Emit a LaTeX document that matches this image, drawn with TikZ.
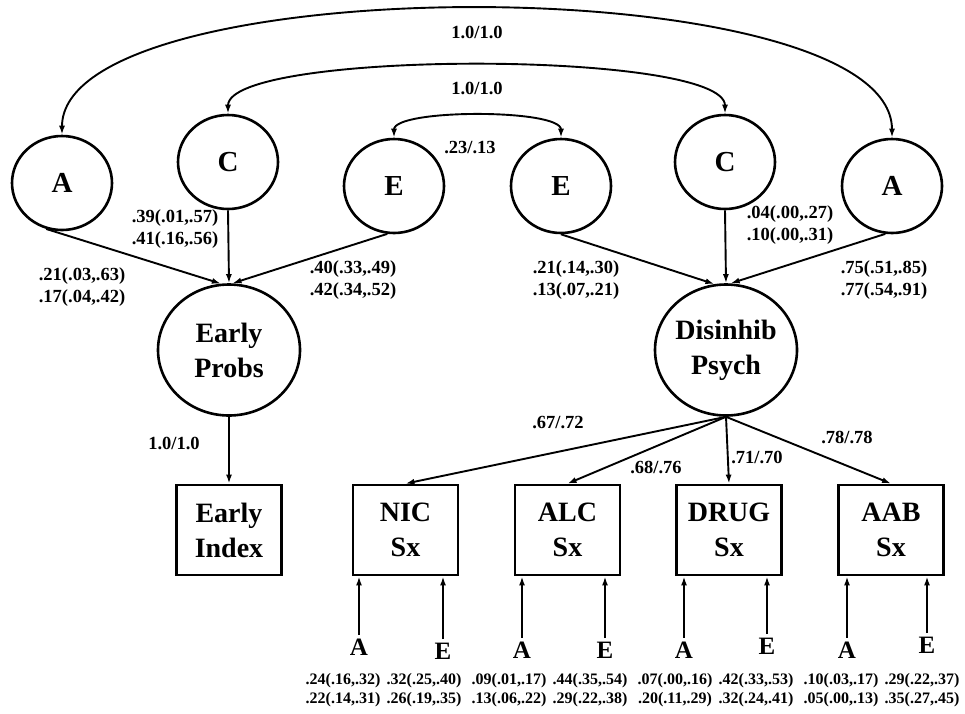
\documentclass[tikz,border=0pt]{standalone}
\usepackage{fontspec}
\setmainfont{Liberation Serif}
\usetikzlibrary{shapes.geometric,arrows.meta}
\begin{document}
\begin{tikzpicture}[x=1pt,y=-1pt,
  lat/.style={draw,ellipse,line width=2.6pt,minimum width=100pt,minimum height=94pt,inner sep=0pt,font=\fontsize{29}{30}\selectfont\bfseries},
  big/.style={draw,ellipse,line width=2.6pt,minimum width=142pt,minimum height=131pt,inner sep=-8pt,align=center,font=\fontsize{28}{35}\selectfont\bfseries},
  obs/.style={draw,rectangle,line width=2.8pt,minimum width=105pt,minimum height=90pt,inner sep=0pt,align=center,font=\fontsize{28}{35}\selectfont\bfseries},
  res/.style={font=\fontsize{25}{26}\selectfont\bfseries,anchor=base},
  arr/.style={line width=1.9pt,-{Latex[length=9pt,width=6pt]}},
  darr/.style={line width=1.9pt,{Latex[length=9pt,width=6pt]}-{Latex[length=9pt,width=6pt]}},
  ld/.style={font=\fontsize{18.5}{20}\selectfont\bfseries},
  pl/.style={font=\fontsize{18.5}{22}\selectfont\bfseries,align=center},
  bn/.style={font=\fontsize{16}{19}\selectfont\bfseries,align=center},
]
\useasboundingbox (0,0) rectangle (965,713);
% latent ACE
\node[lat] (lA) at (62,183) {A};
\node[lat] (lC) at (228,162) {C};
\node[lat] (lE) at (394,186) {E};
\node[lat] (rE) at (561,186) {E};
\node[lat] (rC) at (725,162) {C};
\node[lat] (rA) at (892,186) {A};
% factors
\node[big] (EP) at (229,350) {Early\\Probs};
\node[big] (DP) at (726,350) {Disinhib\\Psych};
% observed
\node[obs] (EI) at (229,530) {Early\\Index};
\node[obs] (NIC) at (405.5,530) {NIC\\Sx};
\node[obs] (ALC) at (567.5,530) {ALC\\Sx};
\node[obs] (DRUG) at (729,530) {DRUG\\Sx};
\node[obs] (AAB) at (891,530) {AAB\\Sx};
% correlations
\draw[darr] (lA.north) .. controls +(0,-168) and +(0,-171) .. (rA.north);
\draw[darr] (lC.north) .. controls +(0,-64) and +(0,-64) .. (rC.north);
\draw[darr] (lE.north) .. controls +(0,-29) and +(0,-29) .. (rE.north);
\node[ld] (c1) at (477,32) {1.0/1.0};
\node[ld] (c2) at (477,88) {1.0/1.0};
\node[ld] (c3) at (470,147) {.23/.13};
% paths to factors
\draw[arr] (lA.-109) -- (EP.97);
\draw[arr] (lC.south) -- (EP.north);
\draw[arr] (lE.-98) -- (EP.87);
\draw[arr] (rE.south) -- (DP.100);
\draw[arr] (rC.south) -- (DP.north);
\draw[arr] (rA.-98) -- (DP.86);
\node[pl] (p1) at (82,287) {.21(.03,.63)\\.17(.04,.42)};
\node[pl] (p2) at (175,229.5) {.39(.01,.57)\\.41(.16,.56)};
\node[pl] (p3) at (353,280) {.40(.33,.49)\\.42(.34,.52)};
\node[pl] (p4) at (576,280) {.21(.14,.30)\\.13(.07,.21)};
\node[pl] (p5) at (790,225.5) {.04(.00,.27)\\.10(.00,.31)};
\node[pl] (p6) at (884,280) {.75(.51,.85)\\.77(.54,.91)};
% loadings
\draw[arr] (EP.south) -- (EI.north);
\draw[arr] (DP.south) -- (NIC.north);
\draw[arr] (DP.south) -- (ALC.north);
\draw[arr] (DP.south) -- (DRUG.north);
\draw[arr] (DP.south) -- (AAB.north);
\node[ld] (l0) at (174,443) {1.0/1.0};
\node[ld] (l1) at (558,422) {.67/.72};
\node[ld] (l2) at (656,467) {.68/.76};
\node[ld] (l3) at (757,457) {.71/.70};
\node[ld] (l4) at (847,437) {.78/.78};
% residual A/E
\node[res] (nA) at (359,655) {A};
\node[res] (nE) at (443,659) {E};
\node[res] (aA) at (522,658) {A};
\node[res] (aE) at (605,658) {E};
\node[res] (dA) at (684,658) {A};
\node[res] (dE) at (767,654) {E};
\node[res] (bA) at (847,658) {A};
\node[res] (bE) at (927,653) {E};
\foreach \r/\b in {nA/NIC,nE/NIC,aA/ALC,aE/ALC,dA/DRUG,dE/DRUG,bA/AAB,bE/AAB}
  \draw[arr] (\r.north) -- (\r.north |- \b.south);
\node[bn] (n1) at (343,690.5) {.24(.16,.32)\\.22(.14,.31)};
\node[bn] (n2) at (424,690.5) {.32(.25,.40)\\.26(.19,.35)};
\node[bn] (n3) at (509,690.5) {.09(.01,.17)\\.13(.06,.22)};
\node[bn] (n4) at (590,690.5) {.44(.35,.54)\\.29(.22,.38)};
\node[bn] (n5) at (675,690.5) {.07(.00,.16)\\.20(.11,.29)};
\node[bn] (n6) at (756,690.5) {.42(.33,.53)\\.32(.24,.41)};
\node[bn] (n7) at (841,690.5) {.10(.03,.17)\\.05(.00,.13)};
\node[bn] (n8) at (922,690.5) {.29(.22,.37)\\.35(.27,.45)};
\end{tikzpicture}
\end{document}
